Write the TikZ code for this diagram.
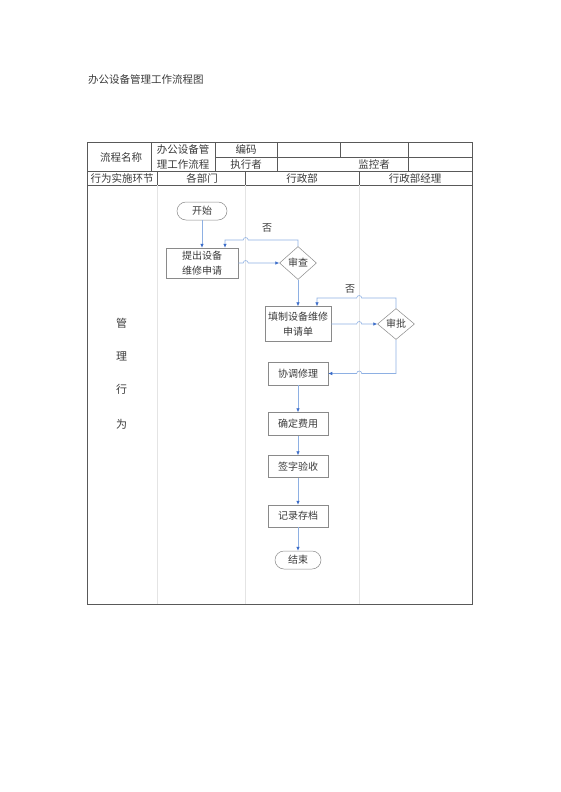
\documentclass[tikz,border=0pt]{standalone}
\usepackage{fontspec}
\setmainfont{Noto Sans CJK SC}
\usetikzlibrary{arrows.meta,shapes.geometric}
\definecolor{flowblue}{HTML}{8EB0E3}
\definecolor{tipblue}{HTML}{3A6BC8}
\definecolor{boxgray}{HTML}{8A8A8A}
\definecolor{lanegray}{HTML}{E4E4E4}
\definecolor{txtgray}{HTML}{3A3A3A}

\begin{document}
\begin{tikzpicture}[x=1pt,y=-1pt,
        rule/.style={draw=black!65,line width=0.5pt},
        lane/.style={draw=lanegray,line width=0.5pt},
        cell/.style={text=txtgray,inner sep=0pt,align=center,font=\fontsize{10.5}{14.5}\selectfont},
        box/.style={draw=boxgray,line width=0.5pt,rectangle,inner sep=0pt,text=txtgray,align=center,font=\fontsize{10}{14.5}\selectfont},
        term/.style={box,rounded corners=9pt,minimum width=50pt,minimum height=18pt},
        check/.style={box,diamond,minimum width=37pt,minimum height=33pt},
        flow/.style={draw=flowblue,line width=0.6pt,-{Latex[length=4pt,width=3.5pt,color=tipblue]}}]
        \useasboundingbox (0,0) rectangle (560,792);
        \node[cell,anchor=west,font=\fontsize{10.5}{12}\selectfont] (title) at (88,80) {办公设备管理工作流程图};
        \draw[rule] (87.5,142) rectangle (472,604);
        \draw[rule] (215,157) -- (472,157);
        \draw[rule] (87.5,171.5) -- (472,171.5);
        \draw[rule] (87.5,185) -- (472,185);
        \draw[rule] (151,142) -- (151,171.5);
        \draw[rule] (215,142) -- (215,171.5);
        \draw[rule] (277.5,142) -- (277.5,171.5);
        \draw[rule] (340.5,142) -- (340.5,157);
        \draw[rule] (408,142) -- (408,171.5);
        \draw[rule] (157.7,171.5) -- (157.7,185);
        \draw[rule] (245.7,171.5) -- (245.7,185);
        \draw[rule] (359.2,171.5) -- (359.2,185);
        \draw[lane] (157.7,185) -- (157.7,604);
        \draw[lane] (245.7,185) -- (245.7,604);
        \draw[lane] (359.2,185) -- (359.2,604);
        \node[cell] (flowname) at (121,157) {流程名称};
        \node[cell] (flowtitle) at (183,157) {办公设备管\\理工作流程};
        \node[cell] (code) at (246,149.5) {编码};
        \node[cell] (doer) at (246,164.5) {执行者};
        \node[cell] (monitor) at (374,164.5) {监控者};
        \node[cell] (stage) at (122,178.5) {行为实施环节};
        \node[cell] (dept) at (202,178.5) {各部门};
        \node[cell] (admin) at (302,178.5) {行政部};
        \node[cell] (manager) at (415,178.5) {行政部经理};
        \foreach \c/\y in {管/323,理/356,行/389,为/424}
            \node[cell,font=\fontsize{11}{12}\selectfont] (act\y) at (121.5,\y) {\c};
        \node[term] (start) at (202,211) {开始};
        \node[box,minimum width=72pt,minimum height=30pt] (tichu) at (202,263) {提出设备\\维修申请};
        \node[check] (shencha) at (298,263) {审查};
        \node[box,minimum width=66pt,minimum height=35pt] (tianzhi) at (298,324) {填制设备维修\\申请单};
        \node[check,minimum height=31pt] (shenpi) at (396,324) {审批};
        \node[box,minimum width=60pt,minimum height=23pt] (xietiao) at (298,373.5) {协调修理};
        \node[box,minimum width=60pt,minimum height=23pt] (queding) at (298,424) {确定费用};
        \node[box,minimum width=60pt,minimum height=22pt] (qianzi) at (298,466.5) {签字验收};
        \node[box,minimum width=60pt,minimum height=22pt] (jilu) at (298,516) {记录存档};
        \node[term,minimum width=46pt] (finish) at (298,560) {结束};
        \node[cell,font=\fontsize{10}{12}\selectfont] (no1) at (267,228) {否};
        \node[cell,font=\fontsize{10}{12}\selectfont] (no2) at (350,289) {否};
        \draw[flow] (start.south) -- (tichu.north);
        \draw[flow] (tichu.east) -- (243.2,263) arc[start angle=180,end angle=0,radius=2.5pt] -- (shencha.west);
        \draw[flow] (shencha.north) |- (248.2,240) arc[start angle=0,end angle=180,radius=2.5pt] -| (tichu.north -| 225,0);
        \draw[flow] (shencha.south) -- (tianzhi.north);
        \draw[flow] (tianzhi.east) -- (356.7,324) arc[start angle=180,end angle=0,radius=2.5pt] -- (shenpi.west);
        \draw[flow] (shenpi.north) |- (361.7,298) arc[start angle=0,end angle=180,radius=2.5pt] -| (tianzhi.north -| 317,0);
        \draw[flow] (shenpi.south) |- (361.7,373.5) arc[start angle=0,end angle=180,radius=2.5pt] -- (xietiao.east);
        \draw[flow] (xietiao.south) -- (queding.north);
        \draw[flow] (queding.south) -- (qianzi.north);
        \draw[flow] (qianzi.south) -- (jilu.north);
        \draw[flow] (jilu.south) -- (finish.north);
    \end{tikzpicture}
\end{document}
